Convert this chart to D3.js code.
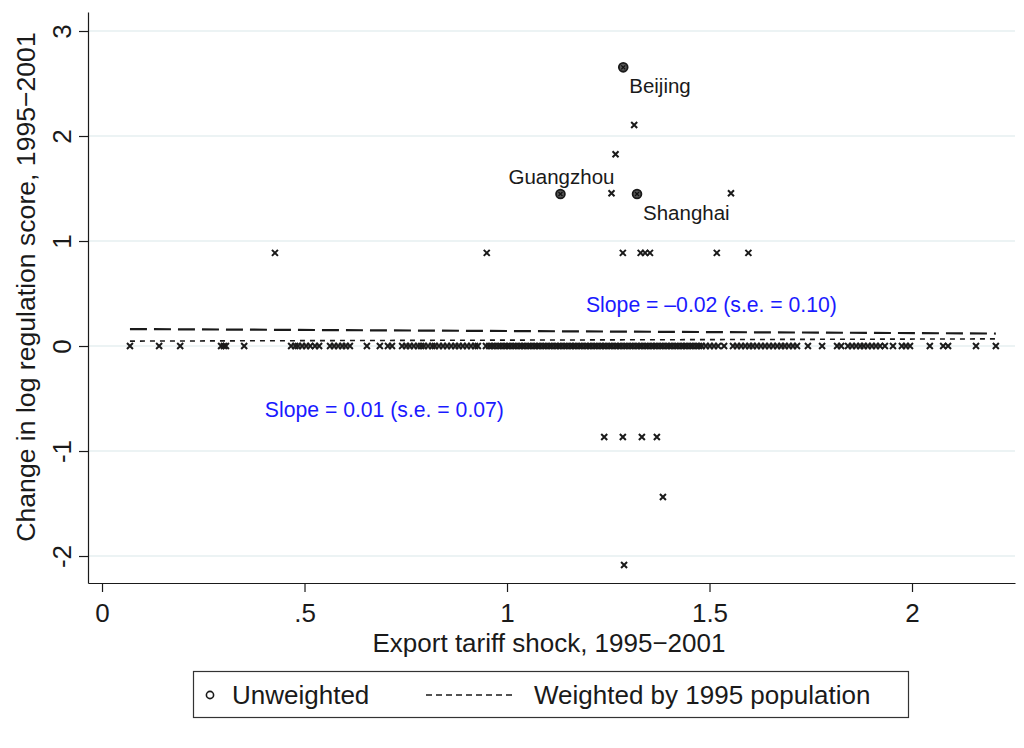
<!DOCTYPE html>
<html>
<head>
<meta charset="utf-8">
<script src="https://cdn.jsdelivr.net/npm/d3@7"></script>
<style>
  html, body { margin: 0; padding: 0; background: #fff; }
  svg { display: block; font-family: "Liberation Sans", Arial, Helvetica, sans-serif; }
</style>
</head>
<body>
<svg id="chart" width="1024" height="748"></svg>
<script>
// Cities with no change in the regulation score (y = 0), by export tariff shock
const zeroShock = [
  0.069, 0.141, 0.193, 0.294, 0.301, 0.306, 0.351,
  0.467, 0.477, 0.484, 0.494, 0.504, 0.514, 0.526, 0.536,
  0.563, 0.573, 0.583, 0.593, 0.602, 0.612, 0.654,
  0.686, 0.706, 0.716, 0.741, 0.751, 0.760, 0.770, 0.780,
  0.788, 0.795, 0.805, 0.815, 0.822, 0.832, 0.842, 0.852, 0.862, 0.872,
  0.881, 0.891, 0.901, 0.911, 0.921, 0.928,
  0.948, 0.956, 0.963, 0.970, 0.978, 0.985, 0.993, 1.000, 1.007, 1.015,
  1.022, 1.030, 1.037, 1.044, 1.052, 1.059, 1.067, 1.074, 1.081, 1.089,
  1.096, 1.104, 1.111, 1.119, 1.126, 1.133, 1.141, 1.148, 1.156, 1.163,
  1.170, 1.178, 1.185, 1.193, 1.200, 1.207, 1.215, 1.222, 1.230, 1.237,
  1.244, 1.252, 1.259, 1.267, 1.274, 1.281, 1.289, 1.296, 1.304, 1.311,
  1.319, 1.326, 1.333, 1.341, 1.348, 1.356, 1.363, 1.370, 1.378, 1.385,
  1.393, 1.400, 1.407, 1.415, 1.422, 1.430, 1.437, 1.444, 1.452, 1.459,
  1.467, 1.474, 1.481, 1.491, 1.501, 1.511, 1.521, 1.536,
  1.558, 1.568, 1.578, 1.588, 1.598, 1.607, 1.617, 1.627, 1.637, 1.647,
  1.657, 1.667, 1.677, 1.686, 1.696, 1.706, 1.716, 1.743, 1.778,
  1.815, 1.825, 1.842, 1.852, 1.862, 1.872, 1.881, 1.891, 1.901, 1.911,
  1.921, 1.933, 1.953, 1.975, 1.985, 1.995, 2.044, 2.077, 2.089, 2.158, 2.207
];

// Cities whose regulation score changed
const changedShock = [0.427, 0.950, 1.286, 1.330, 1.341, 1.353, 1.518, 1.596,
                      1.258, 1.553, 1.314, 1.268,
                      1.240, 1.286, 1.333, 1.370, 1.385, 1.289];
const changedScore = [0.887, 0.887, 0.887, 0.887, 0.887, 0.887, 0.887, 0.887,
                      1.455, 1.455, 2.105, 1.826,
                      -0.867, -0.867, -0.867, -0.867, -1.438, -2.086];

// Labelled cities
const cityNames = ["Beijing", "Guangzhou", "Shanghai"];
const cityShock = [1.287, 1.132, 1.321];
const cityScore = [2.654, 1.448, 1.448];

// Fitted lines (unweighted and population-weighted)
const fitNames = ["Unweighted", "Weighted by 1995 population"];
const fitIntercept = [0.163, 0.046];
const fitSlope = [-0.02, 0.01];
const fitLabels = ["Slope = \u20130.02 (s.e. = 0.10)", "Slope = 0.01 (s.e. = 0.07)"];
const fitRange = [0.069, 2.207];

const xTicks = [0, 0.5, 1, 1.5, 2];
const yTicks = [-2, -1, 0, 1, 2, 3];

const svg = d3.select("#chart");
const plot = { left: 88, right: 1015, top: 12, bottom: 583 };

const x = d3.scaleLinear().domain([-0.0346, 2.2543]).range([plot.left, plot.right]);
const y = d3.scaleLinear().domain([-2.257, 3.181]).range([plot.bottom, plot.top]);

const ink = "#1a1a1a";
const bigFont = 26;

// horizontal grid
svg.append("g").selectAll("line").data(yTicks).join("line")
  .attr("x1", plot.left).attr("x2", plot.right)
  .attr("y1", d => y(d)).attr("y2", d => y(d))
  .attr("stroke", "#e6eff1").attr("stroke-width", 1.6);

// axes
const xAxis = svg.append("g").attr("transform", `translate(0,${plot.bottom})`)
  .call(d3.axisBottom(x).tickValues(xTicks).tickSize(9).tickSizeOuter(0)
    .tickFormat(d => d === 0 ? "0" : String(d).replace(/^0\./, ".")));
xAxis.select(".domain").attr("stroke", ink).attr("stroke-width", 1.2);
xAxis.selectAll(".tick line").attr("stroke", ink).attr("stroke-width", 1.2);
xAxis.selectAll(".tick text").attr("y", 39).attr("dy", null)
  .attr("font-size", bigFont).attr("fill", ink).attr("font-family", "Liberation Sans, Arial, sans-serif");

const yAxis = svg.append("g").attr("transform", `translate(${plot.left},0)`)
  .call(d3.axisLeft(y).tickValues(yTicks).tickSize(9).tickSizeOuter(0).tickFormat(d => String(d)));
yAxis.select(".domain").attr("stroke", ink).attr("stroke-width", 1.2);
yAxis.selectAll(".tick line").attr("stroke", ink).attr("stroke-width", 1.2);
yAxis.selectAll(".tick text")
  .attr("x", null).attr("dy", null)
  .attr("transform", "translate(-17,0) rotate(-90)")
  .attr("text-anchor", "middle")
  .attr("font-size", bigFont).attr("fill", ink).attr("font-family", "Liberation Sans, Arial, sans-serif");

// fitted lines
const fitDash = ["17 7", "5 5"];
const fitWidth = [2.2, 1.6];
const fitG = svg.append("g");
fitNames.forEach((name, i) => {
  fitG.append("line")
    .attr("x1", x(fitRange[0])).attr("y1", y(fitIntercept[i] + fitSlope[i] * fitRange[0]))
    .attr("x2", x(fitRange[1])).attr("y2", y(fitIntercept[i] + fitSlope[i] * fitRange[1]))
    .attr("stroke", ink).attr("stroke-width", fitWidth[i]).attr("stroke-dasharray", fitDash[i]);
});

// x markers
function cross(g, cx, cy, h) {
  g.append("path")
    .attr("d", `M${cx - h},${cy - h}L${cx + h},${cy + h}M${cx - h},${cy + h}L${cx + h},${cy - h}`)
    .attr("stroke", ink).attr("stroke-width", 2).attr("fill", "none");
}
const pts = svg.append("g");
zeroShock.forEach(v => cross(pts, x(v), y(0), 3));
changedShock.forEach((v, i) => cross(pts, x(v), y(changedScore[i]), 3));

// labelled cities
const cityG = svg.append("g");
cityNames.forEach((n, i) => {
  const cx = x(cityShock[i]), cy = y(cityScore[i]);
  cityG.append("circle").attr("cx", cx).attr("cy", cy).attr("r", 4.4)
    .attr("fill", "#555").attr("stroke", ink).attr("stroke-width", 1.8);
  cityG.append("path")
    .attr("d", `M${cx - 2},${cy - 2}L${cx + 2},${cy + 2}M${cx - 2},${cy + 2}L${cx + 2},${cy - 2}`)
    .attr("stroke", "#111").attr("stroke-width", 1.3);
});
const labelPos = [
  { dx: 6, dy: 26, anchor: "start" },
  { dx: 54, dy: -10, anchor: "end" },
  { dx: 6, dy: 26, anchor: "start" }
];
cityNames.forEach((n, i) => {
  svg.append("text")
    .attr("x", x(cityShock[i]) + labelPos[i].dx)
    .attr("y", y(cityScore[i]) + labelPos[i].dy)
    .attr("text-anchor", labelPos[i].anchor)
    .attr("font-size", 20.5).attr("fill", ink).text(n);
});

// slope annotations
const slopePos = [[1.195, 0.324], [0.402, -0.676]];
fitLabels.forEach((t, i) => {
  svg.append("text")
    .attr("x", x(slopePos[i][0])).attr("y", y(slopePos[i][1]))
    .attr("font-size", 21.2).attr("fill", "#1a1aff").text(t);
});

// axis titles
svg.append("text").attr("x", 549).attr("y", 652).attr("text-anchor", "middle")
  .attr("font-size", bigFont).attr("fill", ink).text("Export tariff shock, 1995\u22122001");
svg.append("text").attr("transform", "translate(35,287) rotate(-90)").attr("text-anchor", "middle")
  .attr("font-size", 26.6).attr("fill", ink).text("Change in log regulation score, 1995\u22122001");

// legend
const lg = svg.append("g");
lg.append("rect").attr("x", 193.5).attr("y", 671.5).attr("width", 715).attr("height", 46)
  .attr("fill", "#fff").attr("stroke", "#333").attr("stroke-width", 1.2);
lg.append("circle").attr("cx", 210).attr("cy", 695).attr("r", 3.6)
  .attr("fill", "none").attr("stroke", ink).attr("stroke-width", 1.6);
lg.append("text").attr("x", 232).attr("y", 704).attr("font-size", bigFont).attr("fill", ink).text(fitNames[0]);
lg.append("line").attr("x1", 426).attr("x2", 516).attr("y1", 695).attr("y2", 695)
  .attr("stroke", ink).attr("stroke-width", 1.6).attr("stroke-dasharray", "6 4");
lg.append("text").attr("x", 534).attr("y", 704).attr("font-size", bigFont).attr("fill", ink).text(fitNames[1]);
</script>
</body>
</html>
